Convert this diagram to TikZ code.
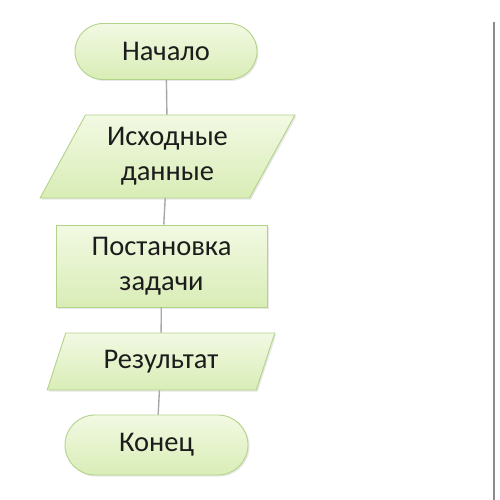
\documentclass[tikz,border=0pt]{standalone}
\usepackage{fontspec}
\setmainfont{Carlito}
\usetikzlibrary{shapes.geometric,shadows}
\definecolor{fillA}{HTML}{F2F9E3}
\definecolor{fillB}{HTML}{D9EDB6}
\definecolor{edgeC}{HTML}{B3D38A}
\definecolor{lineC}{HTML}{A8A8A8}
\definecolor{txtC}{HTML}{1C1C1C}
\definecolor{frameC}{HTML}{8C8C8C}
\begin{document}
\begin{tikzpicture}[x=1pt,y=-1pt,
  base/.style={draw=edgeC, line width=0.9pt, top color=fillA, bottom color=fillB,
    text=txtC, font=\fontsize{28.5}{35}\selectfont, align=center, inner sep=0pt,
    drop shadow={shadow xshift=1.5pt, shadow yshift=-1.5pt, opacity=0.18}},
  term/.style={base, rectangle, rounded corners=#1, minimum width=182pt, minimum height=2*#1},
  proc/.style={base, rectangle, minimum width=211pt, minimum height=82pt},
  io/.style={base, trapezium, trapezium left angle=#1, trapezium right angle=180-#1,
    trapezium stretches=true},
  conn/.style={draw=lineC, line width=1.4pt}]
\useasboundingbox (0,0) rectangle (500,500);
\fill[white] (0,0) rectangle (500,500);
\node[term=28pt] (start) at (166,51.5) {Начало};
\node[io=60, minimum width=255pt, minimum height=83pt] (input) at (167.5,156.5) {Исходные\\данные};
\node[proc] (task) at (161.5,266) {Постановка\\задачи};
\node[io=64, minimum width=228pt, minimum height=57pt] (output) at (161,361.5) {Результат};
\node[term=30pt, minimum width=183pt] (stop) at (156.5,445) {Конец};
\draw[conn] (start) -- (input);
\draw[conn] (input) -- (task);
\draw[conn] (task) -- (output);
\draw[conn] (output) -- (stop);
\coordinate (frameTop) at (494,22);
\coordinate (frameBot) at (494,500);
\draw[frameC, line width=2pt] (frameTop) -- (frameBot);
\end{tikzpicture}
\end{document}
